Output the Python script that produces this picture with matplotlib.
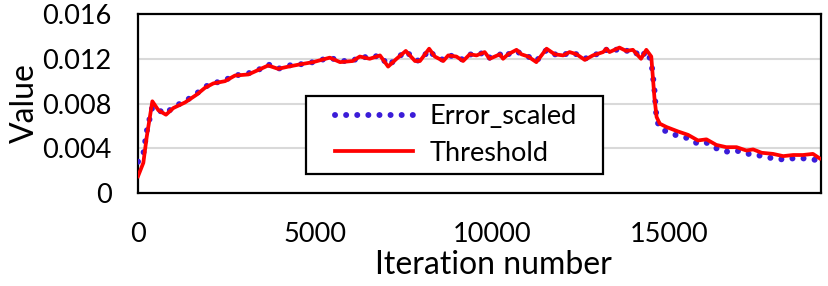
import matplotlib
matplotlib.use("Agg")
import matplotlib.pyplot as plt
from matplotlib.patches import Rectangle

plt.rcParams['font.family'] = ['Lato', 'DejaVu Sans']

# iteration number at which each value was read
iterations = [0, 150, 245, 405, 575, 790, 1000, 1330, 1660, 1890, 2130, 2460, 2740,
              3120, 3400, 3680, 3960, 4250, 4580, 4950, 5420, 5710, 6070, 6270, 6550,
              6840, 7070, 7310, 7570, 7830, 7970, 8230, 8390, 8630, 8770, 9000, 9190,
              9380, 9570, 9800, 9940, 10230, 10320, 10460, 10700, 10840, 11030, 11260,
              11550, 11780, 12020, 12200, 12400, 12630, 12860, 13150, 13240, 13330,
              13610, 13800, 13990, 14220, 14370, 14510, 14600, 14660, 14750, 14940,
              15270, 15550, 15830, 16070, 16350, 16630, 16920, 17200, 17390, 17630,
              17950, 18240, 18520, 18800, 19080, 19270]

threshold = [0.0015, 0.0027, 0.0050, 0.0082, 0.0074, 0.0070, 0.0076, 0.0081, 0.0088,
             0.0094, 0.0098, 0.0100, 0.0105, 0.0106, 0.0110, 0.0114, 0.0111, 0.0113,
             0.0115, 0.0117, 0.0121, 0.0117, 0.0118, 0.0122, 0.0120, 0.0123, 0.0113,
             0.0120, 0.0127, 0.0118, 0.0118, 0.0129, 0.0122, 0.0118, 0.0123, 0.0122,
             0.0118, 0.0124, 0.0123, 0.0126, 0.0120, 0.0124, 0.0120, 0.0124, 0.0128,
             0.0124, 0.0122, 0.0117, 0.0129, 0.0124, 0.0123, 0.0126, 0.0124, 0.0119,
             0.0123, 0.0126, 0.0129, 0.0126, 0.0130, 0.0127, 0.0128, 0.0120, 0.0128,
             0.0122, 0.0085, 0.0068, 0.0062, 0.0059, 0.0055, 0.0052, 0.0047, 0.0048,
             0.0043, 0.0041, 0.0041, 0.0038, 0.0039, 0.0036, 0.0035, 0.0033, 0.0034,
             0.0034, 0.0035, 0.0031]

error_scaled = [0.0028, 0.0035, 0.0055, 0.0077, 0.0074, 0.0071, 0.0077, 0.0082, 0.0089,
                0.0095, 0.0098, 0.0101, 0.0105, 0.0107, 0.0110, 0.0115, 0.0111, 0.0114,
                0.0115, 0.0117, 0.0121, 0.0118, 0.0118, 0.0122, 0.0121, 0.0123, 0.0114,
                0.0120, 0.0127, 0.0119, 0.0118, 0.0128, 0.0122, 0.0119, 0.0123, 0.0122,
                0.0119, 0.0124, 0.0123, 0.0126, 0.0121, 0.0124, 0.0121, 0.0124, 0.0127,
                0.0124, 0.0122, 0.0118, 0.0128, 0.0124, 0.0123, 0.0126, 0.0124, 0.0120,
                0.0123, 0.0126, 0.0128, 0.0126, 0.0129, 0.0127, 0.0128, 0.0121, 0.0127,
                0.0118, 0.0092, 0.0066, 0.0058, 0.0055, 0.0051, 0.0049, 0.0044, 0.0045,
                0.0040, 0.0037, 0.0038, 0.0035, 0.0035, 0.0033, 0.0031, 0.0030, 0.0031,
                0.0031, 0.0030, 0.0029]

y_ticks = [0, 0.004, 0.008, 0.012, 0.016]
y_tick_labels = ["0", "0.004", "0.008", "0.012", "0.016"]
x_ticks = [0, 5000, 10000, 15000]

fig = plt.figure(figsize=(8.29, 2.86), dpi=100)
ax = fig.add_axes([0.1665, 0.325, 0.8235, 0.626])

ax.plot(iterations, error_scaled, color="#3b1cd8", lw=4.3,
        linestyle=(0, (0.01, 1.85)), dash_capstyle="round", label="Error_scaled", zorder=3)
ax.plot(iterations, threshold, color="#ff0000", lw=2.7, label="Threshold", zorder=4)

ax.set_xlim(0, 19300)
ax.set_ylim(0, 0.016)
ax.set_yticks(y_ticks)
ax.set_yticklabels(y_tick_labels)
ax.set_xticks(x_ticks)
ax.tick_params(axis="both", length=0, labelsize=19.5)
ax.tick_params(axis="y", pad=19)
ax.tick_params(axis="x", pad=21)

for y in y_ticks[1:-1]:
    ax.axhline(y, color="#d9d9d9", lw=1.5, zorder=1)
for s in ax.spines.values():
    s.set_linewidth(1.6)
    s.set_color("black")

ax.set_xlabel("Iteration number", fontsize=23, labelpad=2, x=0.52)
ax.set_ylabel("Value", fontsize=23, labelpad=2)

# legend box drawn separately so it can be wider than the entries need
ax.add_patch(Rectangle((0.246, 0.106), 0.435, 0.436, transform=ax.transAxes,
                       facecolor="white", edgecolor="black", lw=1.6, zorder=5))
leg = ax.legend(loc="center left", bbox_to_anchor=(0.2884, 0.324), fontsize=19.5,
                handlelength=2.9, handletextpad=0.6, labelspacing=0.42,
                borderpad=0, borderaxespad=0, frameon=False)
leg.set_zorder(6)

fig.savefig("out.png", dpi=100)
